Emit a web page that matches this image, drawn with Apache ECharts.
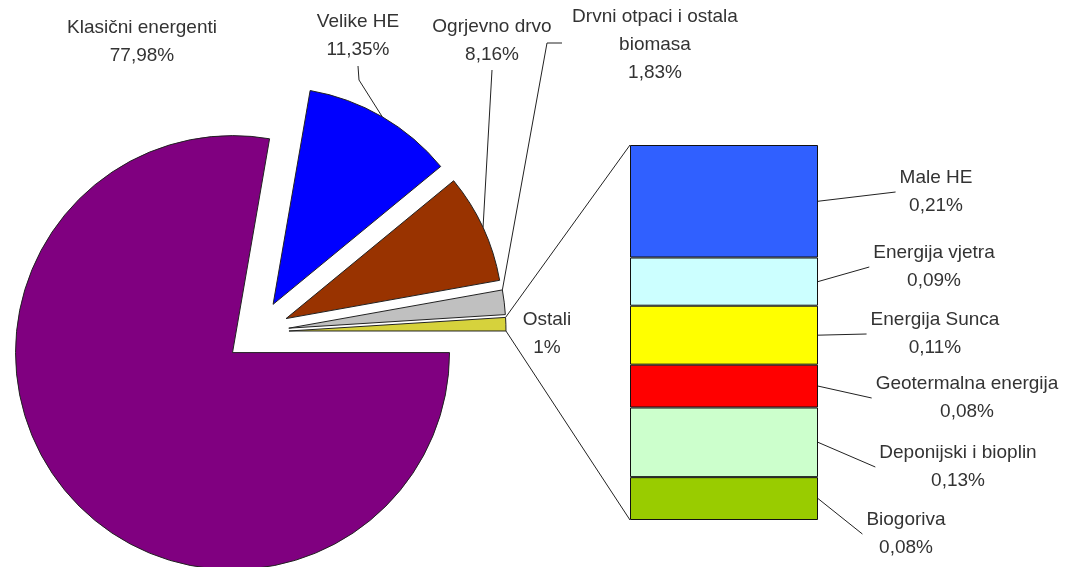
<!DOCTYPE html>
<html>
<head>
<meta charset="utf-8">
<script src="https://cdn.jsdelivr.net/npm/echarts@6/dist/echarts.min.js"></script>
<style>
  html, body { margin: 0; padding: 0; background: #fff; }
  #main { width: 1071px; height: 567px; }
</style>
</head>
<body>
<div id="main"></div>
<script>
  // glavni krug
  var pieNames = ['Klasični energenti', 'Velike HE', 'Ogrjevno drvo', 'Drvni otpaci i ostala\nbiomasa', 'Ostali']
  var pieValues = [77.98, 11.35, 8.16, 1.83, 1]
  var pieColors = ['#800080', '#0000ff', '#993300', '#c0c0c0', '#d6d23c']

  // stupac "Ostali", odozgo prema dolje
  var barNames = ['Male HE', 'Energija vjetra', 'Energija Sunca', 'Geotermalna energija', 'Deponijski i bioplin', 'Biogoriva']
  var barValues = [0.21, 0.09, 0.11, 0.08, 0.13, 0.08]
  var barColors = ['#3060ff', '#ccffff', '#ffff00', '#ff0000', '#ccffcc', '#99cc00']

  // gdje stoje natpisi (sredina bloka teksta)
  var pieLabelPos = [[142, 42], [358, 36], [492, 41], [655, 45], [547, 334]]
  var barLabelPos = [[936, 192], [934, 267], [935, 334], [967, 398], [958, 467], [906, 534]]

  var PIE_OFFSET = 32
  var FONT_SIZE = 19
  var FONT_FAMILY = '"Liberation Sans", Arial, sans-serif'
  var LINE_H = 28
  var TEXT_COLOR = '#333'
  var LINE_COLOR = '#222'

  function pct(v) {
      return String(v).replace('.', ',') + '%'
  }

  var measureCtx = document.createElement('canvas').getContext('2d')
  measureCtx.font = FONT_SIZE + 'px ' + FONT_FAMILY

  function blockWidth(text) {
      return Math.max.apply(null, text.split('\n').map(function(s) {
          return measureCtx.measureText(s).width
      }))
  }

  var chart = echarts.init(document.getElementById('main'))

  var series = [{
      type: 'pie',
      center: [257, 332],
      radius: 217,
      startAngle: 0,
      clockwise: true,
      selectedMode: 'multiple',
      selectedOffset: PIE_OFFSET,
      itemStyle: { borderColor: LINE_COLOR, borderWidth: 1 },
      select: { itemStyle: { borderColor: LINE_COLOR, borderWidth: 1 } },
      emphasis: { disabled: true },
      label: { show: false },
      labelLine: { show: false },
      data: pieNames.map(function(n, i) {
          return {
              name: n,
              value: pieValues[i],
              selected: true,
              itemStyle: { color: pieColors[i] }
          }
      })
  }]

  // stupac se slaze odozdo, pa idemo unatrag
  for (var k = barNames.length - 1; k >= 0; k--) {
      (function(i) {
          series.push({
              type: 'bar',
              name: barNames[i],
              stack: 'ostali',
              barWidth: '100%',
              data: [barValues[i]],
              itemStyle: { color: barColors[i], borderColor: '#111', borderWidth: 1 },
              emphasis: { disabled: true },
              label: {
                  show: true,
                  position: 'right',
                  align: 'center',
                  color: TEXT_COLOR,
                  fontSize: FONT_SIZE,
                  lineHeight: LINE_H,
                  fontFamily: FONT_FAMILY,
                  formatter: function(p) {
                      return p.seriesName + '\n' + pct(p.value)
                  }
              },
              labelLayout: function() {
                  var pos = barLabelPos[i]
                  return { x: pos[0], y: pos[1], align: 'center', verticalAlign: 'middle' }
              }
          })
      })(k)
  }

  option = {
      backgroundColor: '#fff',
      animation: false,
      grid: { left: 630, top: 145, width: 188, height: 375 },
      xAxis: { type: 'category', data: ['Ostali'], show: false },
      yAxis: { type: 'value', min: 0, max: 'dataMax', show: false },
      series: series
  }
  chart.setOption(option)

  // tocka na vanjskom luku isjecka (s pomakom izvucenog isjecka)
  var pieData = chart.getModel().getSeriesByIndex(0).getData()

  function arcPoint(idx, which) {
      var lay = pieData.getItemLayout(idx)
      var mid = (lay.startAngle + lay.endAngle) / 2
      var a = which === 'start' ? lay.startAngle : which === 'end' ? lay.endAngle : mid
      var ox = Math.cos(mid) * PIE_OFFSET
      var oy = Math.sin(mid) * PIE_OFFSET
      return [lay.cx + ox + lay.r * Math.cos(a), lay.cy + oy + lay.r * Math.sin(a)]
  }

  function polyline(points) {
      return {
          type: 'polyline',
          shape: { points: points },
          style: { stroke: LINE_COLOR, lineWidth: 1, fill: null },
          silent: true
      }
  }

  var graphics = []

  // natpisi kruga
  pieNames.forEach(function(n, i) {
      var pos = pieLabelPos[i]
      graphics.push({
          type: 'text',
          x: pos[0],
          y: pos[1],
          silent: true,
          style: {
              text: n + '\n' + pct(pieValues[i]),
              fill: TEXT_COLOR,
              font: FONT_SIZE + 'px ' + FONT_FAMILY,
              lineHeight: LINE_H,
              align: 'center',
              verticalAlign: 'middle'
          }
      })
  })

  // vodilice kruga
  var vp = pieLabelPos[1]
  graphics.push(polyline([arcPoint(1), [vp[0] + 1, vp[1] + 44], [vp[0], vp[1] + 30]]))
  var op = pieLabelPos[2]
  graphics.push(polyline([arcPoint(2), [op[0], op[1] + 29]]))
  var dp = pieLabelPos[3]
  graphics.push(polyline([arcPoint(3, 'start'), [dp[0] - 108, dp[1] - 2], [dp[0] - 93, dp[1] - 2]]))

  // spojnice od isjecka "Ostali" do stupca
  var rect = chart.getModel().getComponent('grid', 0).coordinateSystem.getRect()
  var ostIdx = pieNames.length - 1
  graphics.push(polyline([arcPoint(ostIdx, 'start'), [rect.x, rect.y]]))
  graphics.push(polyline([arcPoint(ostIdx, 'end'), [rect.x, rect.y + rect.height]]))

  // vodilice stupca
  barNames.forEach(function(n, i) {
      var s = chart.getModel().getSeriesByIndex(barNames.length - i)
      var lay = s.getData().getItemLayout(0)
      var top = Math.min(lay.y, lay.y + lay.height)
      var h = Math.abs(lay.height)
      var pos = barLabelPos[i]
      var w = blockWidth(n + '\n' + pct(barValues[i]))
      graphics.push(polyline([
          [lay.x + lay.width, top + h / 2],
          [pos[0] - w / 2 - 4, pos[1]]
      ]))
  })

  chart.setOption({ graphic: graphics })
</script>
</body>
</html>
